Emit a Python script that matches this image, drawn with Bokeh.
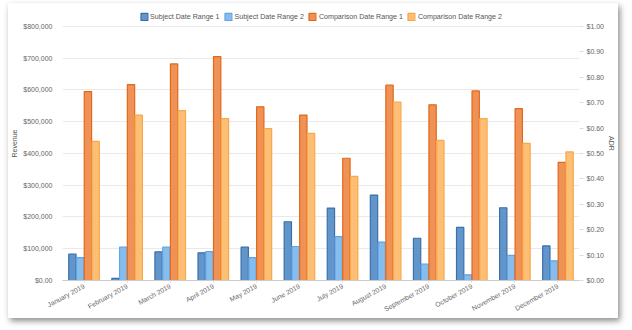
import math
from bokeh.plotting import figure
from bokeh.models import (FactorRange, Range1d, LinearAxis, ColumnDataSource, Legend, LegendItem,
                          FixedTicker, CustomJSTickFormatter)
from bokeh.transform import dodge
from bokeh.embed import file_html
from bokeh.resources import INLINE

months = ["January 2019", "February 2019", "March 2019", "April 2019", "May 2019", "June 2019",
          "July 2019", "August 2019", "September 2019", "October 2019", "November 2019", "December 2019"]
subject1 = [83000, 7000, 90000, 87000, 105000, 185000, 228000, 269000, 133000, 167000, 229000, 109000]
subject2 = [72000, 105000, 105000, 91000, 72000, 107000, 138000, 121000, 52000, 18000, 79000, 62000]
comparison1 = [595000, 617000, 682000, 705000, 547000, 521000, 385000, 615000, 553000, 597000, 541000, 372000]
comparison2 = [438000, 521000, 535000, 510000, 478000, 463000, 328000, 562000, 441000, 510000, 432000, 405000]
series_names = ["Subject Date Range 1", "Subject Date Range 2", "Comparison Date Range 1", "Comparison Date Range 2"]
left_ticks = [0, 100000, 200000, 300000, 400000, 500000, 600000, 700000, 800000]
right_ticks = [0.0, 0.1, 0.2, 0.3, 0.4, 0.5, 0.6, 0.7, 0.8, 0.9, 1.0]

src = ColumnDataSource(dict(m=months, s1=subject1, s2=subject2, c1=comparison1, c2=comparison2))

# frame extends above the top gridline to leave room for the legend inside it
FRAME_H = 275.0
AXIS_H = 255.0
stretch = FRAME_H / AXIS_H

FONT = "Liberation Sans"
p = figure(x_range=FactorRange(*months, range_padding=0),
           y_range=Range1d(0, left_ticks[-1] * stretch),
           width=610, height=315, output_backend="svg", toolbar_location=None,
           min_border_left=50, min_border_right=37, min_border_top=3, min_border_bottom=37)
p.extra_y_ranges = {"adr": Range1d(0, right_ticks[-1] * stretch)}

fills = ["#5a8fc6", "#80b9ec", "#ef8b4d", "#fdbc6e"]
lines = ["#3a6faa", "#5fa4e4", "#e0691c", "#f7a94a"]
cols = ["s1", "s2", "c1", "c2"]
offs = [-0.27, -0.09, 0.09, 0.27]
rs = []
for c, o, f, l in zip(cols, offs, fills, lines):
    r = p.vbar(x=dodge("m", o, range=p.x_range), top=c, width=0.17, source=src,
               fill_color=f, fill_alpha=0.95, line_color=l, line_width=1.2)
    rs.append(r)

legend = Legend(items=[LegendItem(label=n, renderers=[r]) for n, r in zip(series_names, rs)],
                orientation="horizontal", location="top_center",
                label_text_font=FONT, label_text_font_size="7.1px", label_text_color="#555555",
                glyph_width=9, glyph_height=9, spacing=4, label_standoff=2,
                padding=0, margin=6, border_line_color=None, background_fill_alpha=0)
p.add_layout(legend)

p.xaxis.major_label_orientation = 0.5
p.xaxis.major_label_text_font = FONT
p.xaxis.major_label_text_font_size = "6.8px"
p.xaxis.major_label_text_color = "#666666"
p.xaxis.major_label_standoff = 3
p.xaxis.major_tick_line_color = "#dddddd"
p.xaxis.major_tick_in = 0
p.xaxis.major_tick_out = 2
p.xaxis.minor_tick_line_color = None
p.xaxis.axis_line_color = "#cccccc"
p.xgrid.grid_line_color = None

p.yaxis.ticker = FixedTicker(ticks=left_ticks)
p.yaxis.formatter = CustomJSTickFormatter(code="""
if (tick == 0) { return "$0.00"; }
var s = Math.round(tick).toString();
return "$" + s.replace(/\\B(?=(\\d{3})+(?!\\d))/g, ",");
""")
p.yaxis.axis_label = "Revenue"
p.yaxis.axis_label_text_font = FONT
p.yaxis.axis_label_text_font_style = "normal"
p.yaxis.axis_label_text_font_size = "7px"
p.yaxis.axis_label_text_color = "#555555"
p.yaxis.axis_label_standoff = 2
p.yaxis.major_label_text_font = FONT
p.yaxis.major_label_text_font_size = "7px"
p.yaxis.major_label_text_color = "#666666"
p.yaxis.major_label_standoff = 4
p.yaxis.major_tick_line_color = None
p.yaxis.minor_tick_line_color = None
p.yaxis.axis_line_color = None
p.ygrid.grid_line_color = "#e9e9e9"

ra = LinearAxis(y_range_name="adr", ticker=FixedTicker(ticks=right_ticks),
                formatter=CustomJSTickFormatter(code='return "$" + tick.toFixed(2);'),
                axis_label="ADR")
ra.axis_label_text_font = FONT
ra.axis_label_text_font_style = "normal"
ra.axis_label_text_font_size = "7px"
ra.axis_label_text_color = "#555555"
ra.axis_label_standoff = 1
ra.major_label_text_font = FONT
ra.major_label_text_font_size = "7px"
ra.major_label_text_color = "#666666"
ra.major_label_standoff = 3
ra.major_tick_line_color = "#dddddd"
ra.major_tick_in = 0
ra.major_tick_out = 4
ra.minor_tick_line_color = None
ra.axis_line_color = None
p.add_layout(ra, "right")

p.outline_line_color = None
p.styles = {"margin-left": "8px", "margin-top": "3px",
            "box-shadow": "2px 3px 6px rgba(0,0,0,0.45)", "background": "white"}

open("out.html", "w").write(file_html(p, INLINE))
